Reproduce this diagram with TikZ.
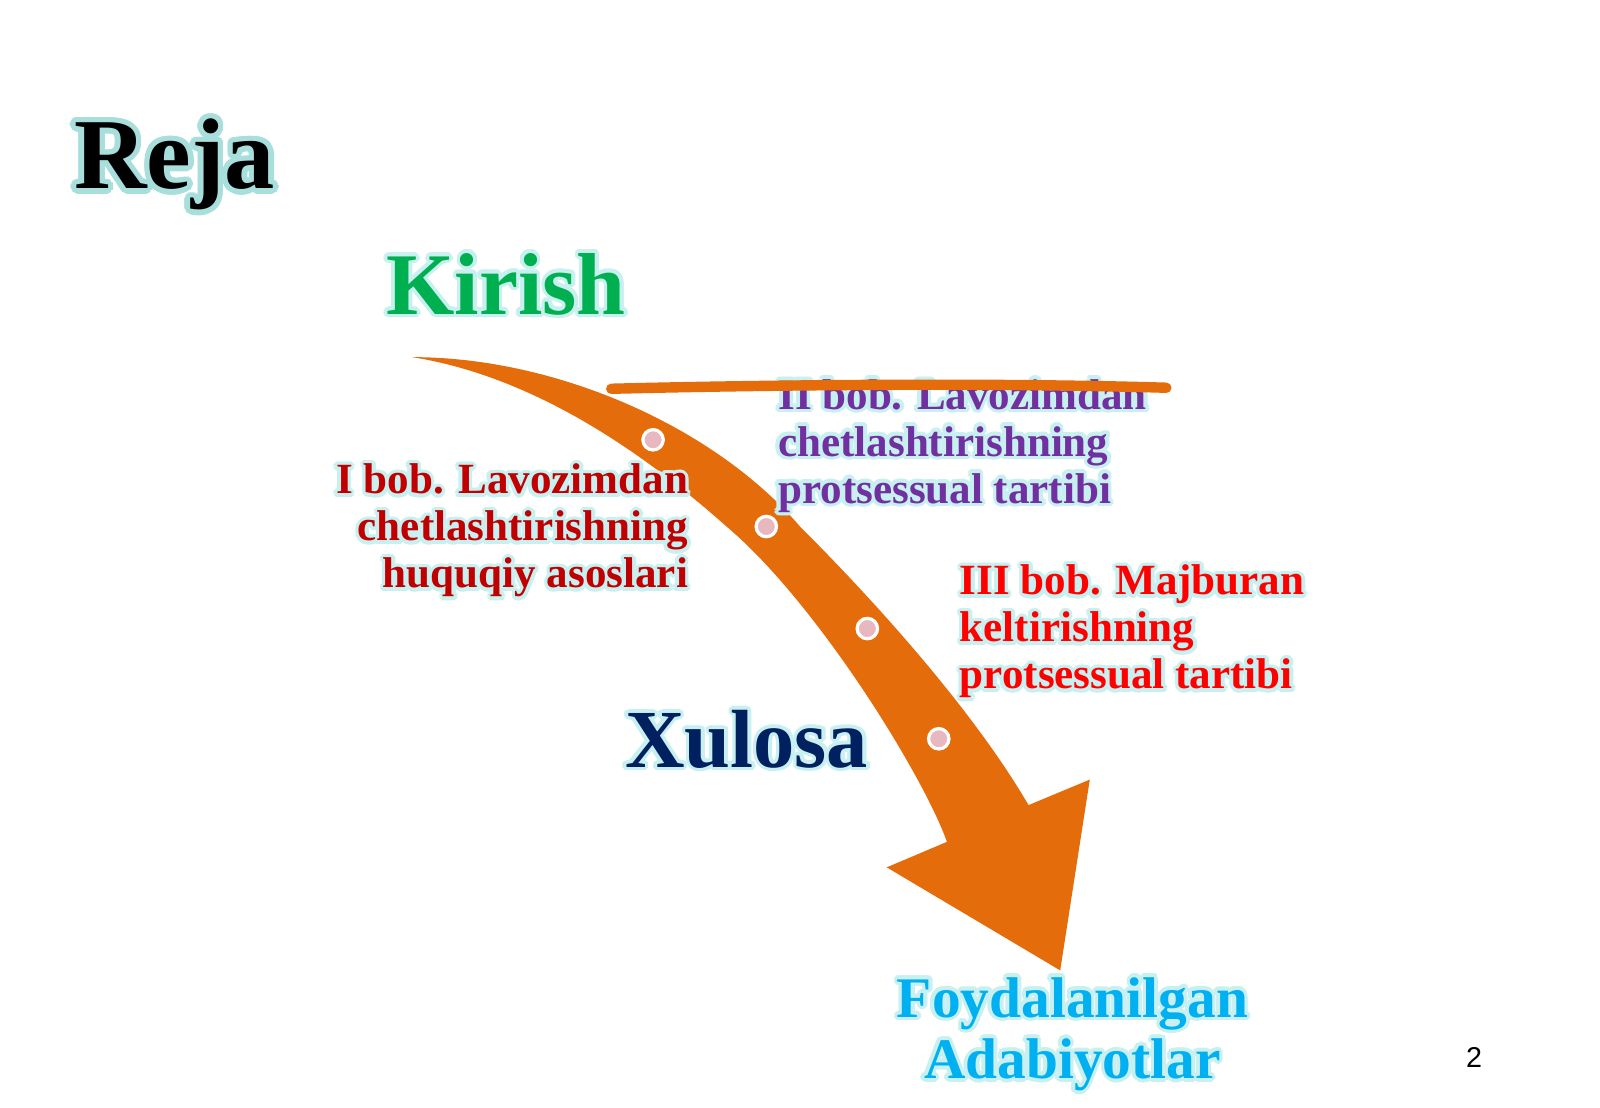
\documentclass[tikz,border=0pt]{standalone}
\usepackage{fontspec}
\setmainfont{Liberation Serif}
\newfontfamily\numfont{Liberation Sans}
\usepackage{contour}
\usetikzlibrary{calc}

\definecolor{kirishgreen}{HTML}{00B050}
\definecolor{xulosablue}{HTML}{002060}
\definecolor{bobred}{HTML}{C00000}
\definecolor{bobpurple}{HTML}{7030A0}
\definecolor{bobthree}{HTML}{FF0000}
\definecolor{adabblue}{HTML}{00B0F0}
\definecolor{arroworange}{HTML}{E46C0A}
\definecolor{dotpink}{HTML}{E8B8C0}
\definecolor{glowcyan}{HTML}{C8F0F0}
\definecolor{glowteal}{HTML}{A8DEDC}

\contourlength{1pt}
\newcommand{\glow}[1]{\contour{glowcyan}{#1}}
\newcommand{\bigglow}[1]{{\contourlength{1.5pt}\contour{glowteal}{#1}}}

\tikzset{
 title/.style={anchor=base west, inner sep=0, font=\bfseries\fontsize{28}{30}\selectfont},
 heading/.style={anchor=base west, inner sep=0, font=\bfseries\fontsize{24.5}{27}\selectfont},
 chapter/.style={inner sep=0, font=\bfseries\fontsize{12}{13.1}\selectfont},
 source/.style={inner sep=0, align=center, font=\bfseries\fontsize{16}{17.1}\selectfont},
}

\begin{document}
\begin{tikzpicture}[x=0.01cm, y=-0.01cm]
\useasboundingbox (0,0) rectangle (1568,1085);
% curved arrow
\fill[arroworange] (404,350) .. controls (545,350) and (700,418) .. (784,516)
 .. controls (850,582) and (950,690) .. (1008,789)
 -- (1068,764) -- (1039,951) -- (869,850) -- (928,825)
 .. controls (905,760) and (800,590) .. (712,516)
 .. controls (640,452) and (530,370) .. (404,350) -- cycle;
\foreach \x/\y/\name in {640/431/one, 751/516/two, 850/616/three, 920/724/four} {
 \coordinate (dot\name) at (\x,\y);
 \filldraw[fill=dotpink, draw=white, line width=0.9pt] (dot\name) circle (10);
}

\node[title] (reja) at (72,185) {\bigglow{Reja}};
\node[heading, text=kirishgreen] (kirish) at (378,308) {\glow{Kirish}};
\node[heading, text=xulosablue, font=\bfseries\fontsize{23}{25}\selectfont] (xulosa) at (612,752) {\glow{Xulosa}};

\node[chapter, text=bobred, anchor=north east, align=right] (bobone) at (675,454)
 {\glow{I bob. Lavozimdan}\\\glow{chetlashtirishning}\\\glow{huquqiy asoslari}};
\node[chapter, text=bobpurple, anchor=north west, align=left] (bobtwo) at (762,371)
 {\glow{II bob. Lavozimdan}\\\glow{chetlashtirishning}\\\glow{protsessual tartibi}};
\node[chapter, text=bobthree, anchor=north west, align=left] (bobthree) at (940,553)
 {\glow{III bob. Majburan}\\\glow{keltirishning}\\\glow{protsessual tartibi}};
\node[source, text=adabblue, anchor=north] (adab) at (1051,957)
 {\glow{Foydalanilgan}\\\glow{Adabiyotlar}};

% stroke over the second chapter
\draw[arroworange, line width=2.9pt, line cap=round] (599,381) .. controls (760,377) and (980,375) .. (1143,380);

\node[anchor=base west, inner sep=0, font=\numfont\fontsize{8}{9}\selectfont] (page) at (1436,1046) {2};
\end{tikzpicture}
\end{document}
